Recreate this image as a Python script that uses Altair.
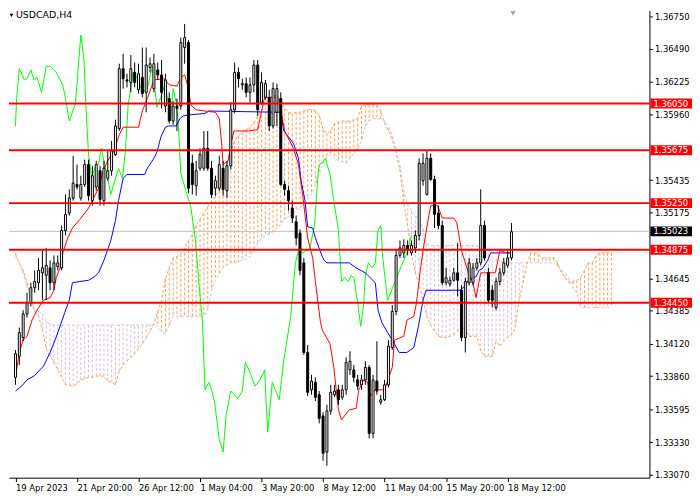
import altair as alt
import pandas as pd

symbol = "USDCAD,H4"

# ---------------- candles (H4 bars, index 0 = 19 Apr 2023) ----------------
opens = [1.3385,1.3402,1.3417,1.3436,1.3445,1.3457,1.3461,1.3469,1.3467,1.3473,
         1.3461,1.3474,1.3473,1.3503,1.3517,1.3529,1.3540,1.3529,1.3540,1.3556,
         1.3527,1.3538,1.3551,1.3527,1.3545,1.3551,1.3564,1.3585,1.3633,1.3624,
         1.3622,1.3630,1.3616,1.3626,1.3614,1.3634,1.3617,1.3632,1.3628,1.3603,
         1.3609,1.3591,1.3603,1.3603,1.3650,1.3654,1.3557,1.3539,1.3553,1.3553,
         1.3569,1.3553,1.3537,1.3537,1.3553,1.3535,1.3555,1.3600,1.3630,1.3620,
         1.3621,1.3614,1.3620,1.3636,1.3606,1.3610,1.3610,1.3587,1.3598,1.3609,
         1.3540,1.3535,1.3521,1.3510,1.3501,1.3477,1.3405,1.3375,1.3381,1.3371,
         1.3354,1.3325,1.3358,1.3371,1.3375,1.3369,1.3375,1.3391,1.3391,1.3383,
         1.3379,1.3383,1.3393,1.3340,1.3382,1.3365,1.3367,1.3379,1.3409,1.3438,
         1.3483,1.3485,1.3491,1.3485,1.3489,1.3499,1.3543,1.3532,1.3561,1.3544,
         1.3517,1.3507,1.3461,1.3460,1.3463,1.3469,1.3455,1.3417,1.3461,1.3461,
         1.3473,1.3477,1.3507,1.3469,1.3455,1.3441,1.3462,1.3469,1.3475,1.3481]
highs = [1.3407,1.3425,1.3439,1.3453,1.3461,1.3471,1.3481,1.3487,1.3489,1.3479,
         1.3483,1.3483,1.3507,1.3532,1.3536,1.3563,1.3556,1.3547,1.3560,1.3560,
         1.3555,1.3559,1.3555,1.3559,1.3567,1.3575,1.3592,1.3637,1.3645,1.3629,
         1.3644,1.3638,1.3637,1.3650,1.3650,1.3642,1.3645,1.3638,1.3640,1.3629,
         1.3614,1.3607,1.3609,1.3658,1.3669,1.3656,1.3564,1.3559,1.3569,1.3583,
         1.3583,1.3559,1.3547,1.3563,1.3559,1.3559,1.3606,1.3638,1.3634,1.3625,
         1.3626,1.3626,1.3640,1.3640,1.3630,1.3624,1.3616,1.3622,1.3621,1.3614,
         1.3543,1.3539,1.3527,1.3515,1.3504,1.3481,1.3411,1.3387,1.3385,1.3374,
         1.3357,1.3363,1.3379,1.3379,1.3379,1.3379,1.3401,1.3406,1.3395,1.3387,
         1.3387,1.3398,1.3395,1.3387,1.3414,1.3371,1.3383,1.3415,1.3443,1.3488,
         1.3495,1.3496,1.3495,1.3495,1.3503,1.3561,1.3565,1.3567,1.3565,1.3547,
         1.3523,1.3511,1.3473,1.3466,1.3473,1.3493,1.3459,1.3465,1.3481,1.3477,
         1.3481,1.3536,1.3511,1.3473,1.3459,1.3465,1.3473,1.3481,1.3487,1.3509]
lows = [1.3379,1.3395,1.3414,1.3433,1.3442,1.3453,1.3455,1.3447,1.3447,1.3455,
        1.3455,1.3471,1.3471,1.3499,1.3515,1.3527,1.3536,1.3527,1.3538,1.3527,
        1.3523,1.3535,1.3523,1.3523,1.3543,1.3547,1.3563,1.3583,1.3617,1.3618,
        1.3614,1.3618,1.3613,1.3610,1.3598,1.3630,1.3614,1.3624,1.3601,1.3598,
        1.3589,1.3588,1.3583,1.3600,1.3637,1.3533,1.3532,1.3531,1.3551,1.3551,
        1.3551,1.3529,1.3531,1.3535,1.3531,1.3529,1.3552,1.3597,1.3618,1.3616,
        1.3610,1.3606,1.3614,1.3595,1.3604,1.3608,1.3583,1.3585,1.3587,1.3539,
        1.3531,1.3519,1.3509,1.3491,1.3467,1.3403,1.3370,1.3371,1.3366,1.3348,
        1.3318,1.3314,1.3355,1.3369,1.3363,1.3367,1.3371,1.3387,1.3381,1.3375,
        1.3375,1.3379,1.3336,1.3336,1.3371,1.3363,1.3366,1.3377,1.3407,1.3435,
        1.3481,1.3481,1.3483,1.3483,1.3485,1.3495,1.3539,1.3531,1.3543,1.3505,
        1.3504,1.3459,1.3459,1.3458,1.3462,1.3450,1.3414,1.3405,1.3459,1.3459,
        1.3471,1.3475,1.3479,1.3445,1.3441,1.3439,1.3459,1.3467,1.3473,1.3479]
closes = [1.3404,1.3421,1.3436,1.3445,1.3457,1.3462,1.3471,1.3473,1.3475,1.3461,
          1.3477,1.3477,1.3503,1.3516,1.3529,1.3541,1.3538,1.3540,1.3556,1.3531,
          1.3547,1.3556,1.3528,1.3553,1.3551,1.3567,1.3587,1.3633,1.3625,1.3623,
          1.3633,1.3622,1.3629,1.3613,1.3636,1.3637,1.3637,1.3628,1.3614,1.3624,
          1.3591,1.3603,1.3601,1.3654,1.3658,1.3537,1.3540,1.3551,1.3564,1.3569,
          1.3553,1.3532,1.3543,1.3556,1.3536,1.3555,1.3600,1.3630,1.3625,1.3621,
          1.3614,1.3620,1.3636,1.3600,1.3622,1.3621,1.3587,1.3617,1.3617,1.3540,
          1.3536,1.3527,1.3513,1.3497,1.3471,1.3405,1.3373,1.3382,1.3369,1.3352,
          1.3324,1.3358,1.3373,1.3374,1.3367,1.3375,1.3397,1.3398,1.3385,1.3378,
          1.3383,1.3393,1.3340,1.3383,1.3374,1.3367,1.3379,1.3410,1.3438,1.3483,
          1.3489,1.3491,1.3487,1.3491,1.3499,1.3557,1.3557,1.3561,1.3544,1.3516,
          1.3507,1.3461,1.3465,1.3463,1.3469,1.3463,1.3417,1.3462,1.3477,1.3473,
          1.3477,1.3507,1.3481,1.3447,1.3447,1.3462,1.3469,1.3477,1.3481,1.3502]

# ---------------- Ichimoku lines ----------------
tenkan_bar = [0,1,2,3,4.3,5.6,7.3,9,10,10.6,11.6,12.3,13.6,14.8,16.8,19,20,21.6,22.8,24,
              25.6,27,28,32,33,34.3,36,38.6,40,42,43,44,45,45.6,47,49.3,52,53,53.6,54,
              55.3,56,56.8,60.6,63,63.6,64.8,67.8,68.6,70,72.3,73.6,74.8,76,77.3,78,79.3,79.8,81.8,82.8,
              84,84.8,86.8,88.6,89.3,90.6,91.6,92.3,93.6,96,98,98.6,101,101.8,103.6,104.3,105.3,106,107.3,108,
              109.8,111,114,114.8,116,117.8,119,119.8,121,121.8,124.8,126,127.8,129]
tenkan_val = [1.3385,1.3405,1.3415,1.3418,1.3431,1.3439,1.3447,1.3449,1.3455,1.3465,
              1.3473,1.3485,1.3497,1.3505,1.3512,1.3521,1.3527,1.3537,1.3551,1.3559,
              1.3567,1.3580,1.3586,1.3586,1.3599,1.3609,1.3624,1.3625,1.3620,1.3619,
              1.3626,1.3628,1.3617,1.3604,1.3600,1.3599,1.3598,1.3593,1.3574,1.3556,
              1.3559,1.3572,1.3583,1.3583,1.3584,1.3593,1.3610,1.3610,1.3607,1.3583,
              1.3569,1.3556,1.3529,1.3497,1.3481,1.3462,1.3430,1.3423,1.3412,1.3393,
              1.3359,1.3351,1.3359,1.3360,1.3375,1.3383,1.3381,1.3370,1.3375,1.3375,
              1.3393,1.3415,1.3418,1.3431,1.3434,1.3445,1.3471,1.3487,1.3511,1.3523,
              1.3523,1.3513,1.3513,1.3509,1.3487,1.3469,1.3461,1.3449,1.3469,1.3469,
              1.3469,1.3487,1.3485,1.3485]

kijun_bar = [0,1.6,3,4.8,7.3,9,10.3,11.6,12.8,14,
             14.8,16.6,19,20.6,21.6,23,24.8,26,26.8,28,
             29,33.6,34.3,36,36.8,37.8,39,39.8,41.8,42.8,
             43.6,45.3,49.3,50.3,69,69.8,72.3,73.6,74.3,75.3,
             76,77.3,78,79.8,80.3,81,86.8,88.6,91,93.6,
             94.3,95.3,96.8,98,99.8,101.8,103.6,104.8,106,106.8,
             115.6,116.8,117.8,119,119.8,120.6,121.6,122.8,123.6,129]
kijun_val = [1.3374,1.3378,1.3383,1.3386,1.3394,1.3405,1.3415,1.3426,1.3437,1.3447,
             1.3461,1.3462,1.3463,1.3466,1.3469,1.3479,1.3495,1.3511,1.3527,1.3545,
             1.3548,1.3548,1.3553,1.3561,1.3566,1.3578,1.3586,1.3587,1.3587,1.3593,
             1.3595,1.3596,1.3597,1.3599,1.3598,1.3583,1.3573,1.3561,1.3543,1.3527,
             1.3506,1.3505,1.3497,1.3482,1.3479,1.3477,1.3477,1.3473,1.3469,1.3461,
             1.3439,1.3429,1.3421,1.3415,1.3405,1.3405,1.3409,1.3426,1.3447,1.3455,
             1.3455,1.3458,1.3463,1.3465,1.3466,1.3471,1.3473,1.3479,1.3485,1.3485]

chikou_bar = [0,0.3,1,2.3,3,4,4.8,5.6,6.8,8,
              9,10.6,12.3,13,14,15.6,16.6,17,17.8,18.3,
              19,19.8,20.6,21.6,22.3,24,24.8,26,26.8,27.8,
              28.6,29.3,30.6,31.8,33,34.3,35.6,36.8,37.8,39,
              40.3,41,41.8,42.3,43,44.3,45.6,46.8,47.8,48.6,
              49.3,50.3,51,51.8,53,54,54.8,56,57.8,59,
              59.8,61,62.3,63.6,64.8,65.6,66.8,68.6,69.8,71.6,
              72.8,73.6,74.8,76.6,77.8,78.6,79,79.8,80.6,81.8,
              82.8,84,84.3,84.8,85.6,86.6,87.3,88,89,89.8,
              90.6,91,91.8,92.8,93.6,94.3,95,95.6,96.8,98.6,
              100.3,101.8,103]
chikou_val = [1.3587,1.3609,1.3633,1.3624,1.3625,1.3632,1.3624,1.3626,1.3614,1.3635,
              1.3635,1.3630,1.3620,1.3609,1.3591,1.3605,1.3645,1.3660,1.3641,1.3604,
              1.3564,1.3545,1.3553,1.3556,1.3569,1.3545,1.3532,1.3545,1.3553,1.3545,
              1.3567,1.3604,1.3630,1.3625,1.3614,1.3617,1.3635,1.3602,1.3610,1.3622,
              1.3591,1.3617,1.3606,1.3591,1.3549,1.3535,1.3522,1.3495,1.3458,1.3431,
              1.3375,1.3381,1.3375,1.3365,1.3335,1.3325,1.3355,1.3374,1.3368,1.3374,
              1.3397,1.3389,1.3378,1.3383,1.3391,1.3341,1.3381,1.3367,1.3399,1.3434,
              1.3477,1.3487,1.3485,1.3489,1.3508,1.3545,1.3556,1.3557,1.3561,1.3548,
              1.3527,1.3503,1.3487,1.3462,1.3465,1.3462,1.3467,1.3465,1.3445,1.3426,
              1.3445,1.3467,1.3477,1.3473,1.3477,1.3503,1.3507,1.3479,1.3447,1.3461,
              1.3474,1.3485,1.3499]

# Senkou spans, one value per bar 0..155 (cloud runs 26 bars ahead)
span_a = [1.3483,1.3477,1.3471,1.3461,1.3447,1.3438,1.3434,1.3423,1.3408,1.3402,
          1.3397,1.3391,1.3385,1.3379,1.3379,1.3378,1.3380,1.3383,1.3384,1.3385,
          1.3385,1.3386,1.3386,1.3386,1.3382,1.3381,1.3379,1.3390,1.3395,1.3398,
          1.3401,1.3404,1.3408,1.3412,1.3417,1.3422,1.3428,1.3438,1.3447,1.3464,
          1.3473,1.3481,1.3482,1.3484,1.3489,1.3495,1.3500,1.3507,1.3512,1.3517,
          1.3522,1.3527,1.3531,1.3535,1.3547,1.3556,1.3567,1.3575,1.3579,1.3582,
          1.3584,1.3586,1.3590,1.3595,1.3600,1.3606,1.3609,1.3611,1.3612,1.3607,
          1.3601,1.3598,1.3597,1.3598,1.3598,1.3599,1.3600,1.3600,1.3599,1.3596,
          1.3584,1.3581,1.3583,1.3589,1.3590,1.3591,1.3591,1.3591,1.3592,1.3593,
          1.3603,1.3604,1.3604,1.3604,1.3604,1.3599,1.3589,1.3583,1.3576,1.3566,
          1.3551,1.3526,1.3507,1.3484,1.3469,1.3459,1.3447,1.3434,1.3427,1.3422,
          1.3418,1.3417,1.3417,1.3418,1.3419,1.3422,1.3426,1.3423,1.3418,1.3418,
          1.3418,1.3406,1.3402,1.3402,1.3402,1.3414,1.3410,1.3414,1.3417,1.3419,
          1.3425,1.3447,1.3461,1.3476,1.3485,1.3485,1.3484,1.3481,1.3481,1.3481,
          1.3481,1.3477,1.3469,1.3465,1.3461,1.3462,1.3463,1.3465,1.3471,1.3477,
          1.3477,1.3483,1.3485,1.3485,1.3485,1.3485]
span_b = [1.3485,1.3477,1.3469,1.3458,1.3447,1.3439,1.3438,1.3436,1.3430,1.3428,
          1.3427,1.3427,1.3427,1.3427,1.3427,1.3427,1.3427,1.3427,1.3427,1.3427,
          1.3427,1.3427,1.3427,1.3427,1.3427,1.3427,1.3427,1.3427,1.3427,1.3427,
          1.3427,1.3427,1.3427,1.3427,1.3427,1.3427,1.3427,1.3426,1.3422,1.3420,
          1.3427,1.3434,1.3434,1.3434,1.3434,1.3434,1.3434,1.3434,1.3434,1.3434,
          1.3439,1.3455,1.3463,1.3468,1.3473,1.3475,1.3477,1.3477,1.3478,1.3479,
          1.3480,1.3482,1.3488,1.3493,1.3497,1.3499,1.3500,1.3502,1.3505,1.3508,
          1.3512,1.3514,1.3516,1.3519,1.3521,1.3524,1.3528,1.3532,1.3540,1.3548,
          1.3557,1.3562,1.3564,1.3561,1.3559,1.3558,1.3557,1.3561,1.3565,1.3568,
          1.3575,1.3587,1.3591,1.3593,1.3593,1.3593,1.3591,1.3587,1.3579,1.3568,
          1.3555,1.3535,1.3524,1.3519,1.3515,1.3511,1.3505,1.3493,1.3491,1.3491,
          1.3491,1.3491,1.3491,1.3491,1.3491,1.3491,1.3491,1.3491,1.3491,1.3491,
          1.3491,1.3488,1.3486,1.3484,1.3481,1.3480,1.3478,1.3477,1.3477,1.3477,
          1.3477,1.3477,1.3477,1.3477,1.3477,1.3477,1.3477,1.3477,1.3477,1.3477,
          1.3477,1.3474,1.3471,1.3469,1.3464,1.3457,1.3453,1.3441,1.3441,1.3441,
          1.3441,1.3441,1.3441,1.3441,1.3441,1.3441]

# ---------------- levels, axis ticks ----------------
levels = [1.36050, 1.35675, 1.35250, 1.34875, 1.34450]
current_price = 1.35023
y_ticks = [1.36750, 1.36490, 1.36225, 1.35960, 1.35435, 1.35175,
           1.34645, 1.34385, 1.34120, 1.33860, 1.33595, 1.33330, 1.33070]
date_ticks = [0, 16, 32, 48, 64, 80, 96, 112, 128]
date_labels = ["19 Apr 2023", "21 Apr 20:00", "26 Apr 12:00", "1 May 04:00",
               "3 May 20:00", "8 May 12:00", "11 May 04:00", "15 May 20:00",
               "18 May 12:00"]

W, H = 647, 472
FONT = "DejaVu Sans"
xs = alt.Scale(domain=[-0.4, 163.6], nice=False, zero=False)
ys = alt.Scale(domain=[1.33044, 1.36798], nice=False, zero=False)

candles = pd.DataFrame({"bar": list(range(len(opens))), "open": opens,
                        "high": highs, "low": lows, "close": closes})
candles["dir"] = ["up" if c >= o else "down" for o, c in zip(opens, closes)]

cloud = pd.DataFrame({"bar": list(range(len(span_a))), "a": span_a, "b": span_b})
cloud["kind"] = ["a" if a >= b else "b" for a, b in zip(span_a, span_b)]

tenkan = pd.DataFrame({"bar": tenkan_bar, "v": tenkan_val})
kijun = pd.DataFrame({"bar": kijun_bar, "v": kijun_val})
chikou = pd.DataFrame({"bar": chikou_bar, "v": chikou_val})
lev_df = pd.DataFrame({"price": levels})
cur_df = pd.DataFrame({"price": [current_price]})

label_js = "[" + ",".join("'" + s + "'" for s in date_labels) + "][round(datum.value/16)]"

x_axis = alt.Axis(values=date_ticks, labelExpr=label_js, labelAlign="left",
                  labelBaseline="top", labelPadding=2, tickSize=4,
                  labelFont=FONT, labelFontSize=8.5, labelColor="black",
                  domainColor="black", tickColor="black", grid=False,
                  labelFlush=False, labelOverlap=False, title=None)
y_axis = alt.Axis(orient="right", values=y_ticks, format=".5f", tickSize=3,
                  labelPadding=2, labelFont=FONT, labelFontSize=8.5,
                  labelColor="black", domainColor="black", tickColor="black",
                  grid=False, labelOverlap=False, labelFlush=False, title=None)


def X(field="bar"):
    return alt.X(field + ":Q", scale=xs, axis=x_axis)


def Y(field):
    return alt.Y(field + ":Q", scale=ys, axis=y_axis)


cloud_rules = alt.Chart(cloud).mark_rule(strokeDash=[3, 2], strokeWidth=1).encode(
    x=X(), y=Y("a"), y2="b:Q",
    color=alt.Color("kind:N", scale=alt.Scale(domain=["a", "b"], range=["#F4A460", "#D8BFD8"]), legend=None),
)
span_a_line = alt.Chart(cloud).mark_line(color="#F4A460", strokeDash=[3, 2], strokeWidth=1).encode(
    x=X(), y=Y("a"))
span_b_line = alt.Chart(cloud).mark_line(color="#D8BFD8", strokeDash=[3, 2], strokeWidth=1).encode(
    x=X(), y=Y("b"))

cur_line = alt.Chart(cur_df).mark_rule(color="#C0C0C0", strokeWidth=1).encode(y=Y("price"))

chikou_line = alt.Chart(chikou).mark_line(color="#00FF00", strokeWidth=1).encode(x=X(), y=Y("v"))
kijun_line = alt.Chart(kijun).mark_line(color="#0000FF", strokeWidth=1).encode(x=X(), y=Y("v"))
tenkan_line = alt.Chart(tenkan).mark_line(color="#FF0000", strokeWidth=1).encode(x=X(), y=Y("v"))

wicks = alt.Chart(candles).mark_rule(color="black", strokeWidth=1).encode(
    x=X(), y=Y("low"), y2="high:Q")
bodies = alt.Chart(candles).mark_bar(size=2, stroke="black", strokeWidth=1).encode(
    x=X(), y=Y("open"), y2="close:Q",
    fill=alt.Fill("dir:N", scale=alt.Scale(domain=["up", "down"], range=["white", "black"]), legend=None))

level_lines = alt.Chart(lev_df).mark_rule(color="#FF0000", strokeWidth=2).encode(y=Y("price"))

lev_boxes = alt.Chart(lev_df).mark_tick(orient="horizontal", thickness=10, size=42,
                                        opacity=1, color="#FF0000").encode(
    x=alt.value(W + 22), y=Y("price"))
cur_box = alt.Chart(cur_df).mark_tick(orient="horizontal", thickness=10, size=42,
                                      opacity=1, color="#000000").encode(
    x=alt.value(W + 22), y=Y("price"))
lev_text = alt.Chart(lev_df).mark_text(align="left", baseline="middle", color="white",
                                       font=FONT, fontSize=8.5).encode(
    x=alt.value(W + 4), y=Y("price"), text=alt.Text("price:Q", format=".5f"))
cur_text = alt.Chart(cur_df).mark_text(align="left", baseline="middle", color="white",
                                       font=FONT, fontSize=8.5).encode(
    x=alt.value(W + 4), y=Y("price"), text=alt.Text("price:Q", format=".5f"))

title_df = pd.DataFrame({"t": [symbol]})
title_text = alt.Chart(title_df).mark_text(align="left", baseline="middle", font=FONT,
                                           fontSize=9.5, color="black").encode(
    x=alt.value(7), y=alt.value(5), text="t:N")
title_tri = alt.Chart(title_df).mark_point(shape="triangle-down", filled=True, size=14,
                                           color="black", opacity=1).encode(
    x=alt.value(2.5), y=alt.value(5))
shift_tri = alt.Chart(title_df).mark_point(shape="triangle-down", filled=True, size=30,
                                           color="#A8A8A8", opacity=1).encode(
    x=alt.datum(129.4, scale=xs), y=alt.value(3))

chart = alt.layer(
    cloud_rules, span_a_line, span_b_line, cur_line,
    chikou_line, kijun_line, tenkan_line,
    wicks, bodies, level_lines, lev_boxes, cur_box, lev_text, cur_text,
    title_tri, title_text, shift_tri,
).properties(width=W, height=H, padding=0, background="white").configure_view(stroke=None)

chart.save("out.html", embed_options={"renderer": "svg", "actions": False})
